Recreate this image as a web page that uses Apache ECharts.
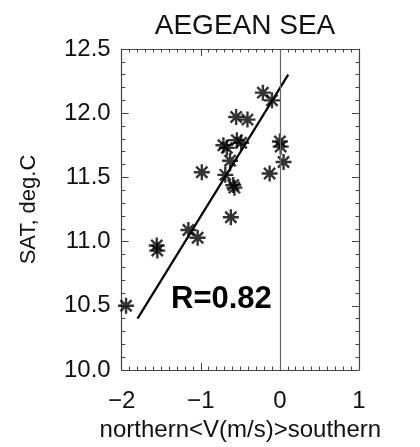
<!DOCTYPE html>
<html>
<head>
<meta charset="utf-8">
<script src="https://cdn.jsdelivr.net/npm/echarts@6/dist/echarts.min.js"></script>
<style>html,body{margin:0;padding:0;background:#fff}#c{width:420px;height:447px}</style>
</head>
<body>
<div id="c"></div>
<script>
const titleText = 'AEGEAN SEA';
const xName = 'northern<V(m/s)>southern';
const yName = 'SAT, deg.C';
const rText = 'R=0.82';
const windV = [-0.215, -0.10, -0.553, -0.41, 0.00, 0.01, 0.046, -0.13, -0.714, -0.67, -0.544, -0.49, -0.63, -0.69, -0.987, -0.575, -0.59, -0.62, -1.157, -1.04, -1.557, -1.55, -1.945];
const sat   = [12.16, 12.10, 11.97, 11.95, 11.78, 11.74, 11.62, 11.53, 11.75, 11.73, 11.79, 11.77, 11.63, 11.52, 11.54, 11.42, 11.44, 11.19, 11.09, 11.03, 10.97, 10.93, 10.50];
const fitX = [-1.80, 0.105];
const fitY = [10.40, 12.30];
const xTicks = [-2, -1, 0, 1];
const yTicks = [10.0, 10.5, 11.0, 11.5, 12.0, 12.5];

const chart = echarts.init(document.getElementById('c'));
const font = 'Liberation Sans, Arial, sans-serif';
const frame = '#444';
const star = 'path://M0,-10L0,10M-10,0L10,0M-7,-7L7,7M-7,7L7,-7';
const axisLine = {show: true, onZero: false, lineStyle: {color: frame, width: 1.2}};
const axisTick = {show: true, inside: true, length: 7, lineStyle: {color: frame}};
const minor = n => ({show: true, splitNumber: n, length: 3.5, lineStyle: {color: frame}});
chart.setOption({
  animation: false,
  title: {text: titleText, left: 240, top: 7, textAlign: 'center',
    textStyle: {fontFamily: font, fontSize: 28, fontWeight: 'normal', color: '#111'}},
  grid: {left: 121.7, right: 61, top: 49, bottom: 77},
  xAxis: [
    {type: 'value', min: xTicks[0], max: xTicks[xTicks.length-1], interval: 1,
      axisLine: axisLine, axisTick: axisTick, minorTick: minor(10), splitLine: {show: false},
      name: xName, nameLocation: 'middle', nameGap: 47,
      nameTextStyle: {fontFamily: font, fontSize: 24, color: '#111'},
      axisLabel: {fontFamily: font, fontSize: 24, color: '#111', margin: 19,
        formatter: v => (v < 0 ? '\u2212' + Math.abs(v) : String(v))}},
    {type: 'value', position: 'top', min: xTicks[0], max: xTicks[xTicks.length-1], interval: 1,
      axisLine: axisLine, axisTick: axisTick, minorTick: minor(10),
      axisLabel: {show: false}, splitLine: {show: false}}
  ],
  yAxis: [
    {type: 'value', min: yTicks[0], max: yTicks[yTicks.length-1], interval: 0.5,
      axisLine: axisLine, axisTick: axisTick, minorTick: minor(5), splitLine: {show: false},
      name: yName, nameLocation: 'middle', nameGap: 82,
      nameTextStyle: {fontFamily: font, fontSize: 22, color: '#111'},
      axisLabel: {fontFamily: font, fontSize: 24, color: '#111', margin: 11,
        formatter: v => v.toFixed(1)}},
    {type: 'value', position: 'right', min: yTicks[0], max: yTicks[yTicks.length-1], interval: 0.5,
      axisLine: axisLine, axisTick: axisTick, minorTick: minor(5),
      axisLabel: {show: false}, splitLine: {show: false}}
  ],
  series: [
    {type: 'scatter', xAxisIndex: 0, yAxisIndex: 0,
      data: windV.map((v, i) => [v, sat[i]]),
      symbol: star, symbolSize: 16,
      itemStyle: {color: 'rgba(0,0,0,0)', borderColor: '#000', borderWidth: 2.4},
      markLine: {silent: true, symbol: 'none', label: {show: false},
        lineStyle: {color: '#666', type: 'solid', width: 1.2},
        data: [{xAxis: 0}]}},
    {type: 'line', xAxisIndex: 0, yAxisIndex: 0,
      data: fitX.map((v, i) => [v, fitY[i]]),
      showSymbol: false, lineStyle: {color: '#000', width: 2.2}}
  ],
  graphic: [{type: 'text', left: 171, top: 284,
    style: {text: rText, fontFamily: font, fontSize: 31, fontWeight: 'bold', fill: '#000'}}]
});
</script>
</body>
</html>
